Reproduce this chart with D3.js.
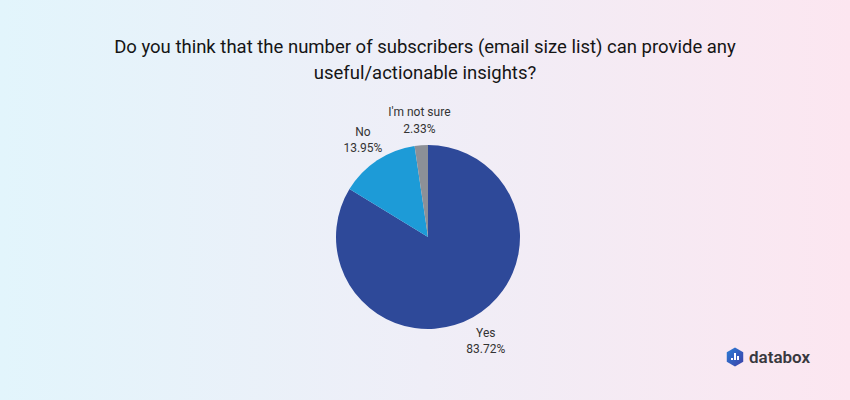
<!DOCTYPE html>
<html>
<head>
<meta charset="utf-8">
<script src="https://cdn.jsdelivr.net/npm/d3@7"></script>
<style>
  body { margin: 0; }
  svg { display: block; font-family: Roboto, 'Noto Sans', sans-serif; }
</style>
</head>
<body>
<svg id="chart" width="850" height="400"></svg>
<script>
var categories = ['Yes', 'No', "I'm not sure"];
var values = [83.72, 13.95, 2.33];
var colours = ['#2e4999', '#1d9bd7', '#8c9097'];
var titleLines = ['Do you think that the number of subscribers (email size list) can provide any',
                  'useful/actionable insights?'];

var width = 850, height = 400;
var cx = 428, cy = 237, radius = 92;

var svg = d3.select('#chart');

// background gradient
var grad = svg.append('defs').append('linearGradient')
    .attr('id', 'bg').attr('x1', '0%').attr('x2', '100%').attr('y1', '0%').attr('y2', '0%');
grad.append('stop').attr('offset', '0%').attr('stop-color', '#e2f5fc');
grad.append('stop').attr('offset', '50%').attr('stop-color', '#efeef7');
grad.append('stop').attr('offset', '100%').attr('stop-color', '#fce6f0');
svg.append('rect').attr('width', width).attr('height', height).attr('fill', 'url(#bg)');

// title
svg.append('g').selectAll('text')
    .data(titleLines)
    .enter()
    .append('text')
    .attr('x', 425)
    .attr('y', function(d, i){ return 53 + i * 26 })
    .attr('text-anchor', 'middle')
    .style('font-size', '18.5px')
    .style('fill', '#151515')
    .text(function(d){ return d });

var data = categories.map(function(c, i){ return { name: c, value: values[i] } });

var pieGen = d3.pie().sort(null).value(function(d){ return d.value });
var pieData = pieGen(data);
var arcGen = d3.arc().innerRadius(0).outerRadius(radius);
var labelArc = d3.arc().innerRadius(118).outerRadius(118);

var pie = svg.append('g').attr('transform', 'translate(' + cx + ',' + cy + ')');

pie.selectAll('.arc')
    .data(pieData)
    .enter()
    .append('path')
    .attr('class', 'arc')
    .attr('d', arcGen)
    .attr('fill', function(d, i){ return colours[i] });

var labels = pie.selectAll('.lbl')
    .data(pieData)
    .enter()
    .append('text')
    .attr('class', 'lbl')
    .attr('text-anchor', 'middle')
    .style('font-size', '12px')
    .style('fill', '#333')
    .attr('transform', function(d){ return 'translate(' + labelArc.centroid(d) + ')' });
labels.append('tspan').attr('x', 0).attr('dy', '-0.25em').text(function(d){ return d.data.name });
labels.append('tspan').attr('x', 0).attr('dy', '1.35em').text(function(d){ return d.data.value.toFixed(2) + '%' });

// databox logo
var logo = svg.append('g').attr('transform', 'translate(735,357)');
var hex = d3.range(6).map(function(i){
    var a = Math.PI / 3 * i + Math.PI / 6;
    return [Math.cos(a) * 9.5, Math.sin(a) * 9.5];
});
var lg = svg.select('defs').append('linearGradient').attr('id', 'lg')
    .attr('x1', '0%').attr('x2', '100%').attr('y1', '0%').attr('y2', '100%');
lg.append('stop').attr('offset', '0%').attr('stop-color', '#2c7fd6');
lg.append('stop').attr('offset', '100%').attr('stop-color', '#3b3fa8');
logo.append('path').attr('d', d3.line()(hex) + 'Z').attr('fill', 'url(#lg)');
logo.selectAll('.bar')
    .data([[-4, 1, 3], [-1, -4, 8], [2, -1, 5]])
    .enter()
    .append('rect')
    .attr('x', function(d){ return d[0] })
    .attr('y', function(d){ return d[1] })
    .attr('width', 2)
    .attr('height', function(d){ return d[2] - 1 })
    .attr('fill', '#fff');
svg.append('text')
    .attr('x', 749).attr('y', 363)
    .style('font-size', '17px')
    .style('font-weight', '600')
    .style('fill', '#38383e')
    .text('databox');
</script>
</body>
</html>
